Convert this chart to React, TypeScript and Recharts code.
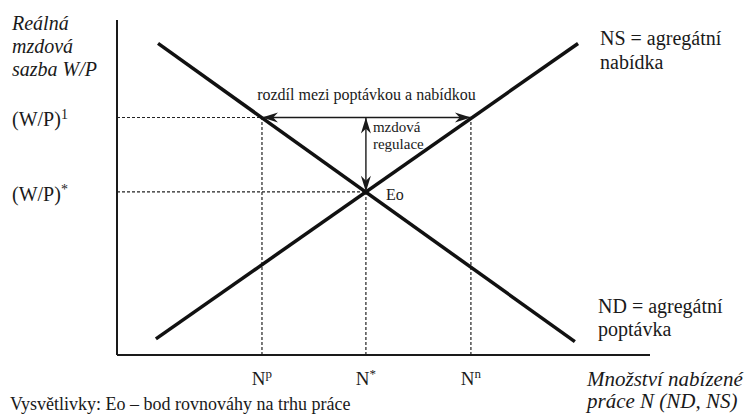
import React from 'react';
import { LineChart, Line, XAxis, YAxis, ReferenceLine } from 'recharts';

// Quantity of labour (x) marks
const quantityValues = [27.2, 46.7, 66.4];
const quantityBase = ['N', 'N', 'N'];
const quantitySup = ['p', '*', 'n'];
// Real wage (y) marks
const wageValues = [70.9, 48.7];
const wageBase = ['(W/P)', '(W/P)'];
const wageSup = ['1', '*'];
// Aggregate demand ND (downward sloping)
const demandN = [7.7, 85.9];
const demandW = [93.0, 4.0];
// Aggregate supply NS (upward sloping)
const supplyN = [7.3, 86.5];
const supplyW = [4.8, 93.0];

const NP = quantityValues[0];
const NSTAR = quantityValues[1];
const NN = quantityValues[2];
const W1 = wageValues[0];
const WSTAR = wageValues[1];

const demandData = demandN.map((n, i) => ({ n, w: demandW[i] }));
const supplyData = supplyN.map((n, i) => ({ n, w: supplyW[i] }));

const FONT = 'Liberation Serif';
const INK = '#1a1a1a';
const serif = { fontFamily: FONT };
const serifItalic = { fontFamily: FONT, fontStyle: 'italic' as const };

function arrowHead(tx: number, ty: number, ux: number, uy: number, key: string) {
  const L = 16;
  const W = 5;
  const bx = tx - ux * L;
  const by = ty - uy * L;
  const nx = -uy;
  const ny = ux;
  const mx = tx - ux * L * 0.7;
  const my = ty - uy * L * 0.7;
  const d = `M${tx},${ty} L${bx + nx * W},${by + ny * W} L${mx},${my} L${bx - nx * W},${by - ny * W} Z`;
  return <path key={key} d={d} fill={INK} stroke="none" />;
}

function doubleArrow(p: any, extra: React.ReactNode) {
  const { x1, y1, x2, y2 } = p;
  const len = Math.hypot(x2 - x1, y2 - y1) || 1;
  const ux = (x2 - x1) / len;
  const uy = (y2 - y1) / len;
  return (
    <g>
      <line x1={x1} y1={y1} x2={x2} y2={y2} stroke={INK} strokeWidth={1.4} />
      {arrowHead(x2, y2, ux, uy, 'a')}
      {arrowHead(x1, y1, -ux, -uy, 'b')}
      {extra}
    </g>
  );
}

const gapShape = (p: any) =>
  doubleArrow(
    p,
    <text x={(p.x1 + p.x2) / 2} y={p.y1 - 17} textAnchor="middle" style={serif} fontSize={16} fill={INK}>
      rozdíl mezi poptávkou a nabídkou
    </text>
  );

const regulationShape = (p: any) =>
  doubleArrow(
    p,
    <g fill={INK}>
      <text x={p.x2 + 7} y={p.y2 + 15} fontSize={15} style={serif}>mzdová</text>
      <text x={p.x2 + 7} y={p.y2 + 32} fontSize={15} style={serif}>regulace</text>
      <text x={p.x1 + 20} y={p.y1 + 8} fontSize={16} style={serif}>Eo</text>
    </g>
  );

const XTick = (props: any) => {
  const { x, y, payload } = props;
  const i = quantityValues.indexOf(payload.value);
  return (
    <text x={x} y={y + 22} textAnchor="middle" style={serif} fontSize={19} fill={INK}>
      {quantityBase[i]}
      <tspan fontSize={13} dy={-7}>{quantitySup[i]}</tspan>
    </text>
  );
};

const YTick = (props: any) => {
  const { y, payload } = props;
  const i = wageValues.indexOf(payload.value);
  return (
    <text x={12} y={y + 9} textAnchor="start" style={serif} fontSize={20} fill={INK}>
      {wageBase[i]}
      <tspan fontSize={14} dy={-7}>{wageSup[i]}</tspan>
    </text>
  );
};

const dashed = { stroke: '#222', strokeWidth: 1.2, strokeDasharray: '3 2' };

export default function App() {
  return (
    <div style={{ position: 'absolute', left: 0, top: 0, width: 747, height: 414, background: '#fff' }}>
      <LineChart width={747} height={414} margin={{ top: 20, right: 97, bottom: 0, left: 0 }}>
        <XAxis
          type="number"
          dataKey="n"
          domain={[0, 100]}
          ticks={quantityValues}
          tick={<XTick />}
          tickLine={false}
          axisLine={{ stroke: INK, strokeWidth: 2 }}
          height={59}
          allowDataOverflow
        />
        <YAxis
          type="number"
          dataKey="w"
          domain={[0, 100]}
          ticks={wageValues}
          tick={<YTick />}
          tickLine={false}
          axisLine={{ stroke: INK, strokeWidth: 2 }}
          width={117}
          allowDataOverflow
        />
        <ReferenceLine segment={[{ x: 0, y: W1 }, { x: NP, y: W1 }]} {...dashed} />
        <ReferenceLine segment={[{ x: 0, y: WSTAR }, { x: NSTAR, y: WSTAR }]} {...dashed} />
        <ReferenceLine segment={[{ x: NP, y: 0 }, { x: NP, y: W1 }]} {...dashed} />
        <ReferenceLine segment={[{ x: NSTAR, y: 0 }, { x: NSTAR, y: WSTAR }]} {...dashed} />
        <ReferenceLine segment={[{ x: NN, y: 0 }, { x: NN, y: W1 }]} {...dashed} />
        <Line data={demandData} dataKey="w" stroke="#111" strokeWidth={3.5} dot={false} isAnimationActive={false} />
        <Line data={supplyData} dataKey="w" stroke="#111" strokeWidth={3.5} dot={false} isAnimationActive={false} />
        <ReferenceLine segment={[{ x: NP, y: W1 }, { x: NN, y: W1 }]} shape={gapShape} />
        <ReferenceLine segment={[{ x: NSTAR, y: WSTAR }, { x: NSTAR, y: W1 }]} shape={regulationShape} />
        <g fill={INK}>
          <text x={12} y={30} fontSize={20} style={serifItalic}>Reálná</text>
          <text x={12} y={53} fontSize={20} style={serifItalic}>mzdová</text>
          <text x={12} y={76} fontSize={20} style={serifItalic}>sazba W/P</text>
          <text x={600} y={45} fontSize={20} style={serif}>NS = agregátní</text>
          <text x={600} y={69} fontSize={20} style={serif}>nabídka</text>
          <text x={598} y={313} fontSize={20} style={serif}>ND = agregátní</text>
          <text x={598} y={336} fontSize={20} style={serif}>poptávka</text>
          <text x={587} y={386} fontSize={21} style={serifItalic}>Množství nabízené</text>
          <text x={587} y={408} fontSize={21} style={serifItalic}>práce N (ND, NS)</text>
          <text x={10} y={410} fontSize={18} style={serif}>Vysvětlivky: Eo – bod rovnováhy na trhu práce</text>
        </g>
      </LineChart>
    </div>
  );
}
